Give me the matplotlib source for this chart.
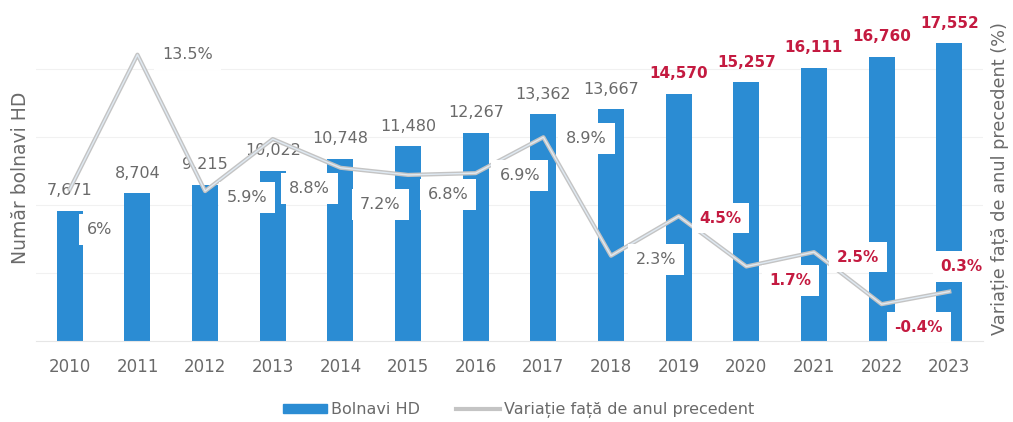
import matplotlib
matplotlib.use("Agg")
import matplotlib.pyplot as plt
from matplotlib.lines import Line2D
from matplotlib.patches import Patch

plt.rcParams['font.family'] = ['DejaVu Sans']

years = ['2010', '2011', '2012', '2013', '2014', '2015', '2016',
         '2017', '2018', '2019', '2020', '2021', '2022', '2023']
patients = [7671, 8704, 9215, 10022, 10748, 11480, 12267,
            13362, 13667, 14570, 15257, 16111, 16760, 17552]
variation = [6, 13.5, 5.9, 8.8, 7.2, 6.8, 6.9, 8.9, 2.3, 4.5, 1.7, 2.5, -0.4, 0.3]
var_labels = ['6%', '13.5%', '5.9%', '8.8%', '7.2%', '6.8%', '6.9%', '8.9%',
              '2.3%', '4.5%', '1.7%', '2.5%', '-0.4%', '0.3%']
first_red = 9  # from 2019 on labels are red

# label offsets (pixels) for the variation labels
var_offsets = [(30, -40), (50, 0), (42, -6), (37, -49), (40, -37), (40, -20), (44, -2),
               (43, -1), (45, -4), (42, -2), (44, -14), (44, -5), (37, -23), (12, 25)]

BLUE = '#2b8cd3'
GREY_TXT = '#6a6a6a'
RED = '#c41a40'
LINE = '#c4c4c4'

fig = plt.figure(figsize=(10.13, 4.22), dpi=100)
ax = fig.add_axes([0.0355, 0.192, 0.935, 0.772])
ax2 = ax.twinx()

x = list(range(len(years)))
ax.bar(x, patients, width=0.385, color=BLUE, zorder=2)
ax.set_ylim(0, 19200)
ax.set_xlim(-0.5, len(years) - 0.5)
ax.set_yticks([4000, 8000, 12000, 16000])
ax.yaxis.grid(True, color='#f1f1f1', linewidth=0.8, zorder=0)
ax.set_axisbelow(True)
ax.tick_params(axis='y', left=False, labelleft=False)
ax.tick_params(axis='x', length=0, labelsize=12, labelcolor=GREY_TXT, pad=12)
ax.set_xticks(x)
ax.set_xticklabels(years)
for s in ['top', 'right', 'left']:
    ax.spines[s].set_visible(False)
ax.spines['bottom'].set_color('#e6e6e6')
ax.set_ylabel('Număr bolnavi HD', color=GREY_TXT, fontsize=13.5, labelpad=4)

for i, v in enumerate(patients):
    red = i >= first_red
    ax.annotate(f'{v:,}', (i, v), xytext=(0, 20), textcoords='offset pixels',
                ha='center', va='center', fontsize=11 if red else 11.5,
                color=RED if red else GREY_TXT,
                fontweight='bold' if red else 'normal', zorder=5)

ax2.plot(x, variation, color=LINE, linewidth=3, zorder=3)
ax2.plot(x, variation, color='#dfe9f2', linewidth=1, zorder=3)
ax2.set_ylim(-2.45, 15.7)
ax2.tick_params(axis='y', right=False, labelright=False)
for s in ['top', 'right', 'left', 'bottom']:
    ax2.spines[s].set_visible(False)
ax2.set_ylabel('Variație față de anul precedent (%)', color=GREY_TXT, fontsize=12.8,
               labelpad=6)

for i, (v, lab) in enumerate(zip(variation, var_labels)):
    red = i >= first_red
    ax2.annotate(lab, (i, v), xytext=var_offsets[i], textcoords='offset pixels',
                 ha='center', va='center', fontsize=11 if red else 11.5,
                 color=RED if red else GREY_TXT,
                 fontweight='bold' if red else 'normal',
                 bbox=dict(boxstyle='square,pad=0.5', fc='white', ec='none'),
                 zorder=6)

handles = [Patch(color=BLUE, label='Bolnavi HD'),
           Line2D([], [], color=LINE, linewidth=3, label='Variație față de anul precedent')]
fig.legend(handles=handles, loc='center', bbox_to_anchor=(0.512, 0.028), ncol=2,
           frameon=False, fontsize=11.5, labelcolor=GREY_TXT, handlelength=2.8,
           handleheight=0.5, handletextpad=0.25, columnspacing=2.2)

fig.savefig('out.png', dpi=100)
